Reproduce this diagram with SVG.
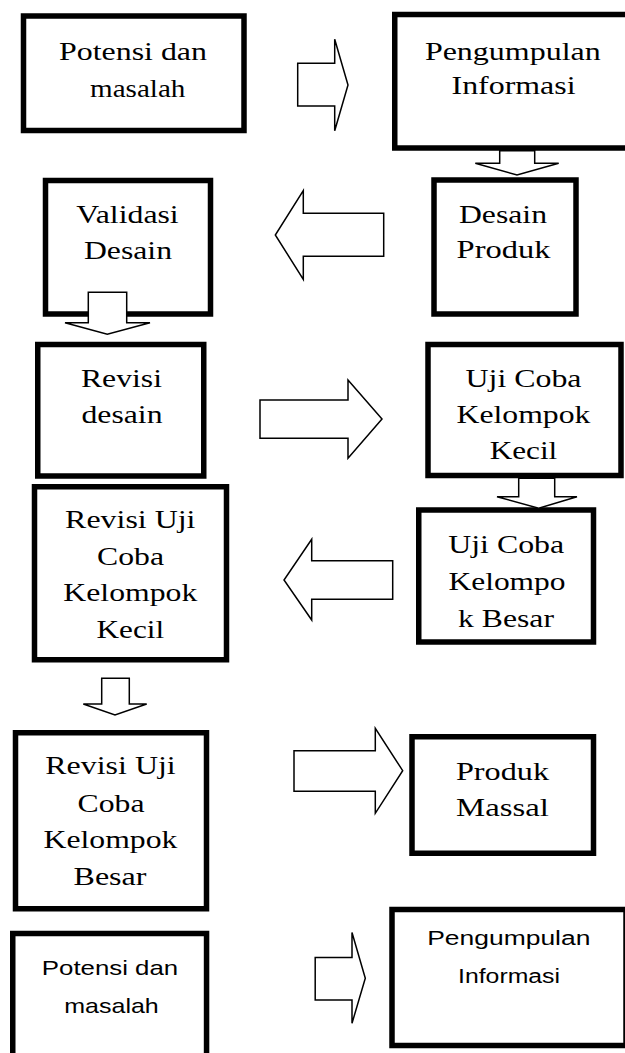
<svg xmlns="http://www.w3.org/2000/svg" width="625" height="1053" viewBox="0 0 625 1053">
<style>
.box{fill:#fff;stroke:#000;stroke-width:5.5}
.arrow{fill:#fff;stroke:#000;stroke-width:1.5;stroke-linejoin:miter}
.t{font-family:"Liberation Serif","Times New Roman",serif;font-size:26px;text-anchor:middle;fill:#000}
.s{font-family:"Liberation Sans",Arial,sans-serif;font-size:21px;text-anchor:middle;fill:#000}
</style>
<rect width="625" height="1053" fill="#fff"/>
<g id="n1">
<rect class="box" x="23.5" y="16" width="220.5" height="114.5"/>
<text class="t" transform="translate(133 59.5) scale(1.227 1)">Potensi dan</text>
<text class="t" transform="translate(137.7 96.7) scale(1.12 1)">masalah</text>
</g>
<g id="n2">
<rect class="box" x="394.75" y="14.5" width="236.5" height="133.5"/>
<text class="t" transform="translate(512.8 60) scale(1.23 1)">Pengumpulan</text>
<text class="t" transform="translate(513.5 93.5) scale(1.227 1)">Informasi</text>
</g>
<g id="n3">
<rect class="box" x="45.5" y="180.5" width="165" height="133.5"/>
<text class="t" transform="translate(127.5 223) scale(1.223 1)">Validasi</text>
<text class="t" transform="translate(128 259) scale(1.22 1)">Desain</text>
</g>
<g id="n4">
<rect class="box" x="434" y="180" width="142" height="134"/>
<text class="t" transform="translate(503 223) scale(1.22 1)">Desain</text>
<text class="t" transform="translate(503.5 258) scale(1.25 1)">Produk</text>
</g>
<g id="n5">
<rect class="box" x="37.75" y="344.5" width="166" height="131.5"/>
<text class="t" transform="translate(121.5 386.7) scale(1.22 1)">Revisi</text>
<text class="t" transform="translate(122 422.7) scale(1.22 1)">desain</text>
</g>
<g id="n6">
<rect class="box" x="428" y="344.5" width="193" height="131"/>
<text class="t" transform="translate(523.5 386.7) scale(1.226 1)">Uji Coba</text>
<text class="t" transform="translate(523.5 423) scale(1.22 1)">Kelompok</text>
<text class="t" transform="translate(523.5 458.5) scale(1.2 1)">Kecil</text>
</g>
<g id="n7">
<rect class="box" x="34.5" y="486.75" width="192" height="173"/>
<text class="t" transform="translate(130.3 528.3) scale(1.229 1)">Revisi Uji</text>
<text class="t" transform="translate(130.5 565) scale(1.22 1)">Coba</text>
<text class="t" transform="translate(130.3 601.3) scale(1.22 1)">Kelompok</text>
<text class="t" transform="translate(130.3 638) scale(1.2 1)">Kecil</text>
</g>
<g id="n8">
<rect class="box" x="418.75" y="510" width="174.75" height="132"/>
<text class="t" transform="translate(506.2 553.3) scale(1.226 1)">Uji Coba</text>
<text class="t" transform="translate(507 590) scale(1.21 1)">Kelompo</text>
<text class="t" transform="translate(506 626.7) scale(1.22 1)">k Besar</text>
</g>
<g id="n9">
<rect class="box" x="15.5" y="732.75" width="191" height="176"/>
<text class="t" transform="translate(110.5 773.5) scale(1.229 1)">Revisi Uji</text>
<text class="t" transform="translate(111 811.7) scale(1.22 1)">Coba</text>
<text class="t" transform="translate(110.5 848.3) scale(1.22 1)">Kelompok</text>
<text class="t" transform="translate(110 885) scale(1.233 1)">Besar</text>
</g>
<g id="n10">
<rect class="box" x="412" y="736.75" width="181.5" height="116.5"/>
<text class="t" transform="translate(502.5 780) scale(1.24 1)">Produk</text>
<text class="t" transform="translate(502.5 815.5) scale(1.26 1)">Massal</text>
</g>
<g id="n11">
<rect class="box" x="12.75" y="933.5" width="193.8" height="130"/>
<text class="s" transform="translate(110 975) scale(1.23 1)">Potensi dan</text>
<text class="s" transform="translate(111.5 1013.3) scale(1.19 1)">masalah</text>
</g>
<g id="n12">
<rect class="box" x="392" y="909.5" width="234" height="136"/>
<text class="s" transform="translate(508.8 945) scale(1.26 1)">Pengumpulan</text>
<text class="s" transform="translate(509 983.3) scale(1.18 1)">Informasi</text>
</g>
<g id="connectors">
<polygon class="arrow" points="297.7,63.3 334.7,63.3 334.7,39.3 348,85 334.7,130.7 334.7,106 297.7,106"/>
<polygon class="arrow" points="499.7,150.7 534.7,150.7 534.7,163.3 558.7,163.3 517,175 475.3,163.3 499.7,163.3"/>
<polygon class="arrow" points="383.7,213.3 303.3,213.3 303.3,190.7 275.3,235 303.3,279.3 303.3,256.3 383.7,256.3"/>
<polygon class="arrow" points="88.3,292.3 126.7,292.3 126.7,322.7 150,322.7 107.3,334.3 65,322.7 88.3,322.7"/>
<polygon class="arrow" points="260,400 348,400 348,380 382,419 348,458.3 348,438.3 260,438.3"/>
<polygon class="arrow" points="518.7,478.3 554.7,478.3 554.7,496.7 577,496.7 538.7,508.3 497,496.7 518.7,496.7"/>
<polygon class="arrow" points="392.7,560.7 311.7,560.7 311.7,539.3 284,580 311.7,620 311.7,599.3 392.7,599.3"/>
<polygon class="arrow" points="101.7,678.3 129.3,678.3 129.3,704 146.7,704 115,715 83.3,704 101.7,704"/>
<polygon class="arrow" points="294,750.7 375.3,750.7 375.3,728.3 402.7,770.7 375.3,813.3 375.3,791.2 294,791.2"/>
<polygon class="arrow" points="315.2,957.5 352,957.5 352,932.5 365.3,978.3 352,1023.3 352,1000 315.2,1000"/>
</g>
</svg>
